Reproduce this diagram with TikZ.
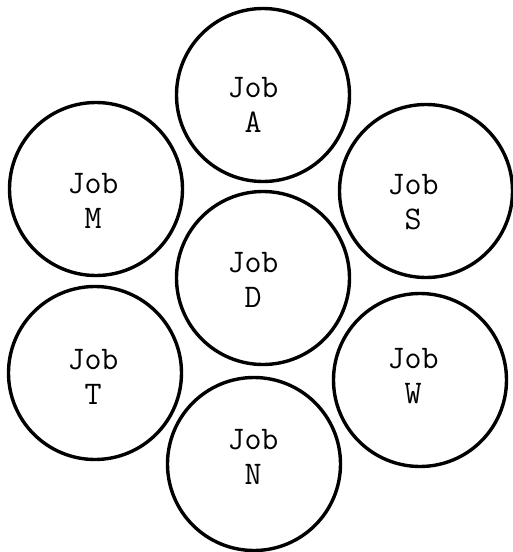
\documentclass[tikz,border=0pt]{standalone}
\begin{document}
\begin{tikzpicture}[x=1pt,y=-1pt,
  jobcircle/.style={draw,circle,line width=3.4pt,minimum size=173pt,inner sep=0pt},
  joblabel/.style={font=\ttfamily\fontsize{33}{35}\selectfont,align=center,inner sep=0pt}]
\useasboundingbox (0,0) rectangle (513,552);
\node[jobcircle] (cA) at (263,95) {};
\node[jobcircle] (cM) at (96,189) {};
\node[jobcircle] (cS) at (426,191) {};
\node[jobcircle] (cD) at (263,278) {};
\node[jobcircle] (cT) at (95,373) {};
\node[jobcircle] (cW) at (420,380) {};
\node[jobcircle] (cN) at (254,464) {};
\node[joblabel] (tA) at (253,105) {Job\\A};
\node[joblabel] (tM) at (93,201) {Job\\M};
\node[joblabel] (tS) at (413,202) {Job\\S};
\node[joblabel] (tD) at (253,280) {Job\\D};
\node[joblabel] (tT) at (93,377) {Job\\T};
\node[joblabel] (tW) at (413,376) {Job\\W};
\node[joblabel] (tN) at (253,457) {Job\\N};
\end{tikzpicture}
\end{document}
